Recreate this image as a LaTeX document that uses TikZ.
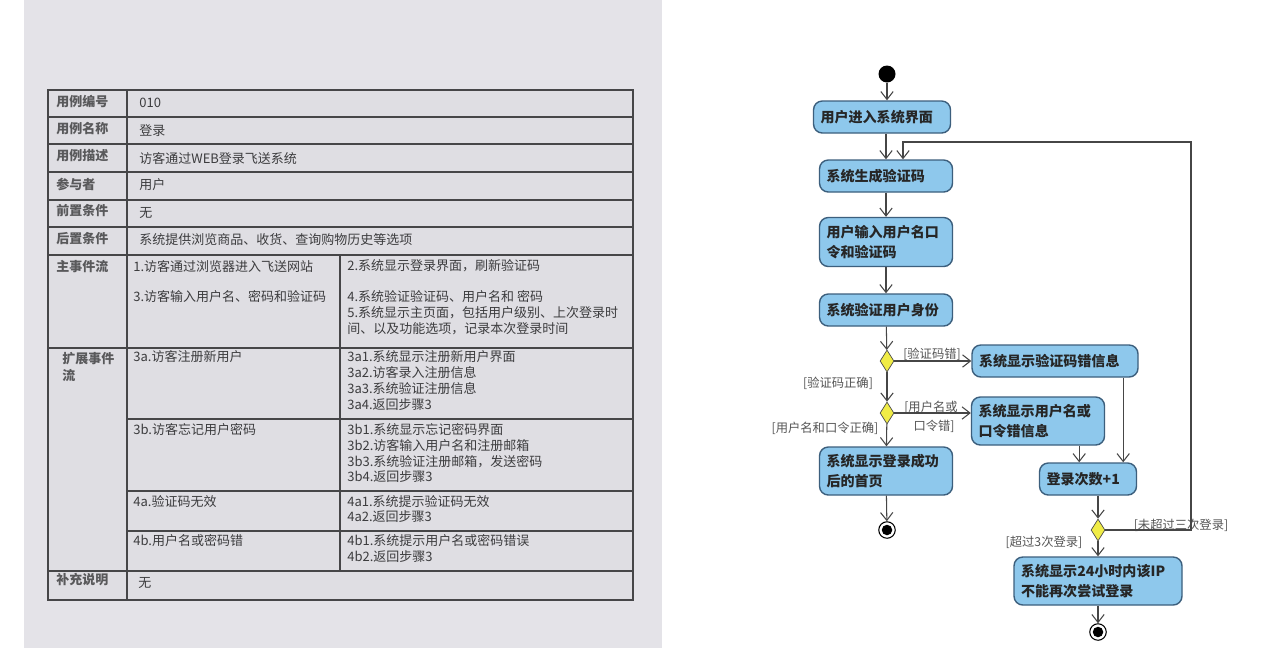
\documentclass[tikz,border=0pt]{standalone}
\usepackage{fontspec}
\setmainfont{Noto Sans CJK SC}
\usetikzlibrary{shapes.geometric,arrows.meta}
\definecolor{panelgray}{RGB}{228,227,232}
\definecolor{cellgray}{RGB}{223,222,227}
\definecolor{tabline}{RGB}{70,70,72}
\definecolor{tabtext}{RGB}{60,60,62}
\definecolor{actblue}{RGB}{142,200,236}
\definecolor{actline}{RGB}{60,95,125}
\definecolor{decyellow}{RGB}{240,236,70}
\definecolor{flowgray}{RGB}{70,70,70}
\definecolor{lblgray}{RGB}{85,85,85}
\newcommand\tabfont{\fontsize{7.4pt}{9pt}\selectfont}
\newcommand\actfont{\fontsize{8pt}{11.3pt}\selectfont\bfseries}
\newcommand\lblfont{\fontsize{7pt}{11pt}\selectfont}

\begin{document}
\begin{tikzpicture}[x=0.02cm,y=-0.02cm,
  cell/.style={anchor=west, inner sep=0, font=\tabfont, text=tabtext},
  headcell/.style={cell, font=\tabfont\bfseries, text=tabtext!85},
  act/.style={draw=actline, line width=0.8pt, fill=actblue, rounded corners=5pt,
    align=left, inner xsep=0.14cm, inner ysep=0, minimum height=0.64cm,
    font=\actfont, text=black!85},
  dec/.style={diamond, draw=black!70, fill=decyellow, inner sep=0,
    minimum width=0.28cm, minimum height=0.44cm},
  startdot/.style={circle, fill=black, inner sep=0, minimum size=0.34cm},
  enddot/.style={circle, draw=black, line width=0.6pt, fill=white, inner sep=0,
    minimum size=0.33cm,
    path picture={\fill[black] (path picture bounding box.center) circle (0.105cm);}},
  flow/.style={draw=flowgray, line width=0.6pt,
    -{Straight Barb[length=4.5pt,width=7pt]}},
  guard/.style={font=\lblfont, text=lblgray, inner sep=0, align=center}]

\useasboundingbox (0,0) rectangle (1270,664);

% Background
\fill[white] (0,0) rectangle (1270,664);
\fill[panelgray] (24,0) rectangle (662,648);

% Table grid
\fill[cellgray] (48,90) rectangle (633,600);
\draw[tabline, line width=1.1pt] (48,90) rectangle (633,600);
\foreach \y in {117,144,172,200,227,255,348,571}{
\draw[tabline, line width=0.9pt] (48,\y) -- (633,\y);
}
\foreach \y in {419,491,531}{
\draw[tabline, line width=0.9pt] (127,\y) -- (633,\y);
}
\draw[tabline, line width=0.9pt] (127,90) -- (127,600);
\draw[tabline, line width=0.9pt] (340,255) -- (340,571);

% Table headings
\foreach \x/\y/\t [count=\i] in {
56/102/用例编号,
56/129/用例名称,
56/156/用例描述,
56/184/参与者,
56/211/前置条件,
56/239/后置条件,
56/267/主事件流,
62/359/扩展事件,
62/375/流,
56/580/补充说明
}{
\node[headcell] (h\i) at (\x,\y) {\t};
}

% Table entries
\foreach \x/\y/\t [count=\i] in {
139/103/010,
139/131/登录,
139/159/访客通过WEB登录飞送系统,
139/185/用户,
139/213/无,
139/240/系统提供浏览商品、收货、查询购物历史等选项,
133/267/1.访客通过浏览器进入飞送网站,
133/297/3.访客输入用户名、密码和验证码,
347/266/2.系统显示登录界面，刷新验证码,
347/297/4.系统验证验证码、用户名和 密码,
347/313/5.系统显示主页面，包括用户级别、上次登录时,
347/329/间、以及功能选项，记录本次登录时间,
133/357/3a.访客注册新用户,
347/357/3a1.系统显示注册新用户界面,
347/373/3a2.访客录入注册信息,
347/389/3a3.系统验证注册信息,
347/405/3a4.返回步骤3,
133/430/3b.访客忘记用户密码,
347/430/3b1.系统显示忘记密码界面,
347/446/3b2.访客输入用户名和注册邮箱,
347/462/3b3.系统验证注册邮箱，发送密码,
347/477/3b4.返回步骤3,
133/502/4a.验证码无效,
347/502/4a1.系统提示验证码无效,
347/517/4a2.返回步骤3,
133/541/4b.用户名或密码错,
347/541/4b1.系统提示用户名或密码错误,
347/557/4b2.返回步骤3,
138/583/无
}{
\node[cell] (t\i) at (\x,\y) {\t};
}

% Activity diagram
\node[startdot] (start) at (887,74) {};
\node[act, text width=2.46cm] (enter) at (882,117) {用户进入系统界面};
\node[act, text width=2.38cm] (gencode) at (886,176) {系统生成验证码};
\node[act, text width=2.38cm, minimum height=0.98cm] (input) at (886,242) {用户输入用户名口\\令和验证码};
\node[act, text width=2.38cm] (verify) at (886,310) {系统验证用户身份};
\node[dec] (dcode) at (887,361) {};
\node[dec] (duser) at (887,413) {};
\node[act, text width=2.38cm, minimum height=0.96cm] (home) at (886,471) {系统显示登录成功\\后的首页};
\node[enddot] (end1) at (887,530) {};

\node[act, text width=3.04cm] (codeerr) at (1055,361) {系统显示验证码错信息};
\node[act, text width=2.38cm, minimum height=0.96cm] (usererr) at (1038,421) {系统显示用户名或\\口令错信息};
\node[act, text width=1.66cm] (count) at (1088,479) {登录次数+1};
\node[dec] (dcount) at (1098,530) {};
\node[act, text width=3.08cm, minimum height=0.96cm] (block) at (1098,581) {系统显示24小时内该IP\\不能再次尝试登录};
\node[enddot] (end2) at (1098,632) {};

% Guards
\node[guard] (gcodeerr) at (932,354) {[验证码错]};
\node[guard] (gcodeok) at (838,383) {[验证码正确]};
\node[guard] (gusererr) at (931,417) {[用户名或\\\hspace*{0.5em}口令错]};
\node[guard] (guserok) at (825,428) {[用户名和口令正确]};
\node[guard] (gagain) at (1181,525) {[未超过三次登录]};
\node[guard] (glock) at (1044,542) {[超过3次登录]};

% Flows
\coordinate (loopR) at (1191,142);
\coordinate (loopL) at (903,142);
\draw[flow] (start) -- (start |- enter.north);
\draw[flow] (enter.south -| gencode.north) -- (gencode.north);
\draw[flow] (gencode) -- (input);
\draw[flow] (input) -- (verify);
\draw[flow] (verify) -- (dcode);
\draw[flow] (dcode) -- (duser);
\draw[flow] (duser) -- (home);
\draw[flow] (home) -- (end1);
\draw[flow] (dcode.east) -- (dcode.east -| codeerr.west);
\draw[flow] (duser.east) -- (duser.east -| usererr.west);
\draw[flow] ([xshift=-0.52cm]usererr.south east) -- ([xshift=-0.52cm]usererr.south east |- count.north);
\draw[flow] ([xshift=-0.28cm]count.north east |- codeerr.south) -- ([xshift=-0.28cm]count.north east);
\draw[flow] (count.south -| dcount.north) -- (dcount.north);
\draw[flow] (dcount) -- (block);
\draw[flow] (block) -- (end2);
\draw[flow] (dcount.east) -| (loopR) -- (loopL) -- (loopL |- gencode.north);

\end{tikzpicture}
\end{document}
